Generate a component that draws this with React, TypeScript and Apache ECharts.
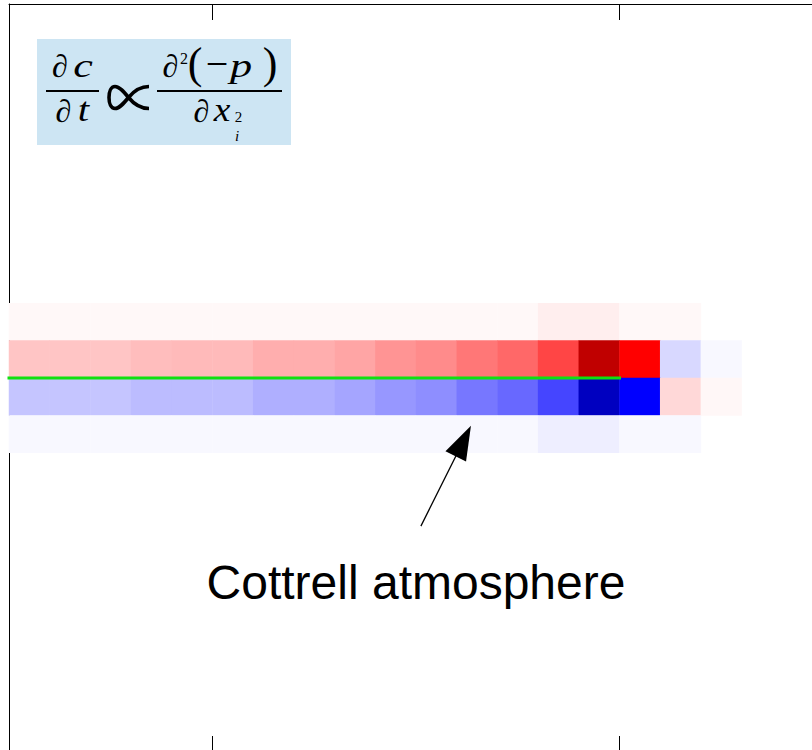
import React, { useEffect, useRef } from "react";
import * as echarts from "echarts";

// categories (cell indices along each axis)
const xCategories = ["0","1","2","3","4","5","6","7","8","9","10","11","12","13","14","15","16","17","18","19"];
const yCategories = ["0","1","2","3","4","5","6","7","8","9","10","11","12","13","14","15","16","17","18","19"];

// tick positions (category boundary index)
const xTickIndices = [5, 15];
const yTickIndices = [10];

// concentration change rows (signed, -1..1), starting at column 0
const rowAbove = [0.014,0.014,0.014,0.014,0.014,0.014,0.014,0.014,0.014,0.014,0.014,0.014,0.014,0.034,0.034,0.014,0.014]; // y = 11
const rowTension = [0.114,0.114,0.114,0.129,0.135,0.135,0.159,0.159,0.176,0.21,0.227,0.267,0.296,0.365,0.75,0.5,-0.076,-0.014]; // y = 10
const rowCompression = [-0.114,-0.114,-0.114,-0.132,-0.132,-0.132,-0.157,-0.157,-0.176,-0.204,-0.222,-0.267,-0.296,-0.365,-0.75,-0.5,0.076,0.016]; // y = 9
const rowBelow = [-0.014,-0.014,-0.014,-0.014,-0.014,-0.014,-0.014,-0.014,-0.014,-0.014,-0.014,-0.014,-0.014,-0.034,-0.034,-0.014,-0.014]; // y = 8
const rowYIndex = [11, 10, 9, 8];

// slip plane (green line) in continuous coords 0..20
const slipPlane = [[0, 10], [15, 10]];
// annotation arrow: tail x, tail y, tip x, tip y
const arrowData = [[10.12, 6.04, 11.35, 8.72]];
const annotationText = "Cottrell atmosphere";

const colorStops = ["#000080", "#0000ff", "#ffffff", "#ff0000", "#800000"];

const PROPTO_D =
  "M40,3.5 C30,3.5 24,9 19.5,14.5 C15,20 10.5,25.5 6,25.5 C2,25.5 0,20.5 0,14.5 C0,8.5 2,3.5 6,3.5 C10.5,3.5 15,9 19.5,14.5 C24,20 30,25.5 40,25.5";
echarts.graphic.registerShape("propto", echarts.graphic.extendPath(PROPTO_D, {}));

export default function App() {
  const ref = useRef<HTMLDivElement>(null);
  useEffect(() => {
    if (!ref.current) return;
    const chart = echarts.init(ref.current, null, { renderer: "svg" });
    const rows = [rowAbove, rowTension, rowCompression, rowBelow];
    const heat: number[][] = [];
    rows.forEach((r, ri) => r.forEach((v, ci) => heat.push([ci, rowYIndex[ri], v])));

    const catAxisX = (pos: string) => ({
      type: "category",
      data: xCategories,
      position: pos,
      boundaryGap: true,
      axisLine: { show: true, onZero: false, lineStyle: { color: "#000", width: 1 } },
      axisTick: {
        show: true,
        inside: true,
        length: 16,
        interval: (i: number) => xTickIndices.indexOf(i) >= 0,
        lineStyle: { color: "#000", width: 1 },
      },
      axisLabel: { show: false },
      splitLine: { show: false },
    });
    const catAxisY = (pos: string) => ({
      type: "category",
      data: yCategories,
      position: pos,
      boundaryGap: true,
      axisLine: { show: true, onZero: false, lineStyle: { color: "#000", width: 1 } },
      axisTick: {
        show: true,
        inside: true,
        length: 16,
        interval: (i: number) => yTickIndices.indexOf(i) >= 0,
        lineStyle: { color: "#000", width: 1 },
      },
      axisLabel: { show: false },
      splitLine: { show: false },
    });

    const serif = '"Liberation Serif", "DejaVu Serif", serif';
    const t = (text: string, x: number, y: number, size: number, italic = false, family = serif, sx = 1, sy = 1) => ({
      type: "text",
      x,
      y,
      scaleX: sx,
      scaleY: sy,
      silent: true,
      style: {
        text,
        font: `${italic ? "italic " : ""}${size}px ${family}`,
        fill: "#000",
        align: "center",
        verticalAlign: "middle",
        textAlign: "center",
        textVerticalAlign: "middle",
      },
    });

    const option: any = {
      animation: false,
      grid: { left: 9, top: 4, width: 814, height: 748 },
      xAxis: [
        catAxisX("bottom"),
        catAxisX("top"),
        { type: "value", min: 0, max: 20, show: false },
      ],
      yAxis: [
        catAxisY("left"),
        catAxisY("right"),
        { type: "value", min: 0, max: 20, show: false },
      ],
      visualMap: {
        type: "continuous",
        show: false,
        min: -1,
        max: 1,
        dimension: 2,
        seriesIndex: 0,
        inRange: { color: colorStops },
      },
      series: [
        {
          type: "heatmap",
          xAxisIndex: 0,
          yAxisIndex: 0,
          data: heat,
          silent: true,
          emphasis: { disabled: true },
        },
        {
          type: "line",
          xAxisIndex: 2,
          yAxisIndex: 2,
          data: slipPlane,
          symbol: "none",
          silent: true,
          z: 5,
          lineStyle: { color: "#10e010", width: 3, cap: "square" },
        },
        {
          type: "custom",
          xAxisIndex: 2,
          yAxisIndex: 2,
          data: arrowData,
          encode: { x: [0, 2], y: [1, 3] },
          silent: true,
          z: 6,
          renderItem: (params: any, api: any) => {
            const p0 = api.coord([api.value(0), api.value(1)]);
            const p1 = api.coord([api.value(2), api.value(3)]);
            const dx = p1[0] - p0[0];
            const dy = p1[1] - p0[1];
            const len = Math.hypot(dx, dy);
            const ux = dx / len;
            const uy = dy / len;
            const L = 34;
            const W = 11.5;
            const bx = p1[0] - ux * L;
            const by = p1[1] - uy * L;
            return {
              type: "group",
              children: [
                {
                  type: "line",
                  shape: { x1: p0[0], y1: p0[1], x2: bx + ux * 2, y2: by + uy * 2 },
                  style: { stroke: "#000", lineWidth: 1.3 },
                },
                {
                  type: "polygon",
                  shape: {
                    points: [
                      [p1[0], p1[1]],
                      [bx - uy * W, by + ux * W],
                      [bx + uy * W, by - ux * W],
                    ],
                  },
                  style: { fill: "#000" },
                },
              ],
            };
          },
        },
      ],
      graphic: [
        {
          type: "text",
          x: 416,
          y: 582,
          silent: true,
          style: {
            text: annotationText,
            font: '48px "Liberation Sans", Arial, sans-serif',
            fill: "#000",
            align: "center",
            verticalAlign: "middle",
            textAlign: "center",
            textVerticalAlign: "middle",
          },
        },
        {
          type: "group",
          silent: true,
          children: [
            { type: "rect", shape: { x: 37, y: 39, width: 254, height: 106 }, style: { fill: "#cde5f3" } },
            { type: "line", shape: { x1: 46, y1: 91, x2: 99, y2: 91 }, style: { stroke: "#000", lineWidth: 2 } },
            { type: "line", shape: { x1: 157, y1: 91, x2: 282, y2: 91 }, style: { stroke: "#000", lineWidth: 2 } },
            t("∂", 60, 66, 32),
            t("c", 83, 66, 34, true, serif, 1.3, 1),
            t("∂", 63.5, 111, 32),
            t("t", 83.5, 110, 34, true, serif, 1.2, 1),
            {
              type: "propto",
              x: 109,
              y: 83,
              silent: true,
              style: { fill: "none", stroke: "#000", lineWidth: 3.6 },
            },
            t("∂", 170.5, 66, 32),
            t("2", 184, 58, 16),
            t("(", 195, 63, 44),
            t("−", 217, 63, 40),
            t("p", 241, 66, 34, true, serif, 1.3, 1),
            t(")", 270, 63, 44),
            t("∂", 201.5, 111, 32),
            t("x", 222, 110, 34, true, serif, 1.1, 1),
            t("2", 238.5, 117, 15),
            t("i", 237, 136, 15, true),
          ],
        },
      ],
    };
    chart.setOption(option);
    return () => chart.dispose();
  }, []);
  return (
    <div style={{ position: "absolute", left: 0, top: 0, width: 812, height: 750, overflow: "hidden" }}>
      <div ref={ref} style={{ width: 840, height: 770 }} />
    </div>
  );
}
